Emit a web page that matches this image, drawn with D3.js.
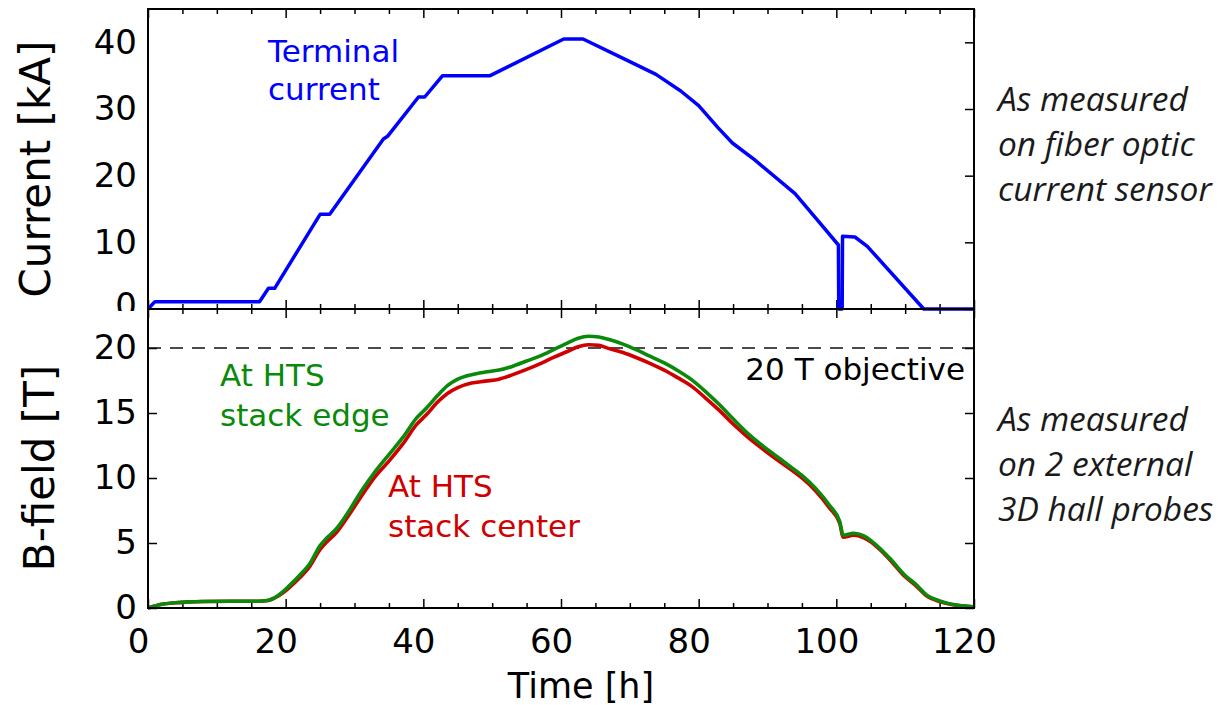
<!DOCTYPE html>
<html><head><meta charset="utf-8">
<script src="https://cdn.jsdelivr.net/npm/d3@7"></script>
<style>body{margin:0;background:#fff}svg{display:block}</style>
</head><body><svg id="c" width="1218" height="705"></svg>
<script>
// ---- data ----
const currentTime = [0,1,16.2,17.5,18.4,25,26.4,34.2,34.8,39.3,40.2,42.8,49.7,60.4,63.2,68.8,73.8,77.4,80,82.8,84.9,88.1,94,97.2,100.3,100.35,100.85,100.9,102.7,104.5,112.7,120];
const currentKA   = [0,1.1,1.1,3.1,3.1,14.2,14.2,25.5,25.9,31.8,31.8,35,35,40.5,40.5,37.7,35.2,32.7,30.5,27.2,24.9,22.4,17.3,13.4,9.6,0,0,10.9,10.8,9.4,0,0];

const edgeTime = [0,1,2,4,6,8,12,16,17.5,19,20.5,22,23.5,25,26,27.2,29,31,33,35,37,39,40.5,42,43.5,45,47,49,51,53,55,57,59,61,62.5,64,65.5,67,69,71,73,75,77,79,81,83,85,87,89,91,93,95,97,99,100.5,101,102.5,104,105,106.5,107.8,110,111.7,113,115,117.5,120];
const edgeT    = [0,0.15,0.28,0.4,0.47,0.5,0.52,0.52,0.6,1.0,1.7,2.5,3.4,4.8,5.4,6.0,7.3,9.0,10.5,11.8,13.1,14.6,15.4,16.3,17.1,17.6,17.95,18.15,18.3,18.6,19.0,19.4,19.9,20.4,20.75,20.9,20.85,20.65,20.3,19.85,19.35,18.85,18.25,17.55,16.65,15.65,14.55,13.5,12.6,11.8,11.0,10.2,9.2,7.9,6.65,5.6,5.75,5.55,5.2,4.5,3.8,2.5,1.75,1.05,0.55,0.23,0.1];

const centerTime = [0,1,2,4,6,8,12,16,17.5,19,20.5,22,23.5,25,26,27.2,29,31,33,35,37,39,40.5,42,43.5,45,47,49,51,53,55,57,59,61,62.5,64,65.5,67,69,71,73,75,77,79,81,83,85,87,89,91,93,95,97,99,100.5,101,102.5,104,105,106.5,107.8,110,111.7,113,115,117.5,120];
const centerT    = [0,0.15,0.28,0.4,0.47,0.5,0.52,0.52,0.58,0.95,1.55,2.3,3.2,4.5,5.1,5.7,7.0,8.6,10.1,11.3,12.6,14.1,14.9,15.8,16.5,16.95,17.3,17.45,17.6,17.95,18.35,18.8,19.3,19.75,20.1,20.25,20.2,19.95,19.65,19.25,18.8,18.3,17.7,17.05,16.15,15.2,14.15,13.2,12.35,11.55,10.8,10.0,9.0,7.7,6.5,5.45,5.6,5.4,5.1,4.4,3.7,2.4,1.65,0.98,0.5,0.2,0.08];

const xTicks = [0,20,40,60,80,100,120];
const xMinorTicks = [5,10,15,25,30,35,45,50,55,65,70,75,85,90,95,105,110,115];
const topTicks = [0,10,20,30,40];
const botTicks = [0,5,10,15,20];
const objectiveT = 20;

const labels = {
  yTop: "Current [kA]", yBot: "B-field [T]", x: "Time [h]",
  terminal: ["Terminal", "current"],
  edge: ["At HTS", "stack edge"],
  center: ["At HTS", "stack center"],
  objective: "20 T objective",
  noteTop: ["As measured", "on fiber optic", "current sensor"],
  noteBot: ["As measured", "on 2 external", "3D hall probes"]
};

// ---- chart ----
const svg = d3.select("#c");
const FONT = "DejaVu Sans";
const x = d3.scaleLinear([0,120],[148,974]);
const yTop = d3.scaleLinear([0,45],[309,9]);
const yBot = d3.scaleLinear([0,23],[608,309]);

const defs = svg.append("defs");
// in the coordinate space of the left-axis group (translated by 148)
defs.append("clipPath").attr("id","topLab").append("rect").attr("x",-148).attr("y",0).attr("width",148).attr("height",311);
defs.append("clipPath").attr("id","topPlot").append("rect").attr("x",140).attr("y",9).attr("width",840).attr("height",304);

function styleAxis(g, fs){
  g.select(".domain").remove();
  g.selectAll(".tick line").attr("stroke","#000").attr("stroke-width",1.5);
  g.selectAll(".tick text").attr("font-family",FONT).attr("font-size",fs).attr("fill","#000");
}

function xAxes(yPos, dir, labelsOn){
  const mk = dir === "bottom" ? d3.axisBottom : d3.axisTop;
  const gM = svg.append("g").attr("transform",`translate(0,${yPos})`)
    .call(mk(x).tickValues(xTicks).tickSizeInner(-9).tickSizeOuter(0).tickPadding(21)
      .tickFormat(labelsOn ? d3.format("d") : ""));
  styleAxis(gM, 34);
  if (labelsOn) gM.selectAll(".tick text").attr("dx",-10);
  const gm = svg.append("g").attr("transform",`translate(0,${yPos})`)
    .call(mk(x).tickValues(xMinorTicks).tickSizeInner(-5).tickSizeOuter(0).tickFormat(""));
  styleAxis(gm, 34);
}
xAxes(9,"top",false);
xAxes(309,"bottom",false);
xAxes(309,"top",false);
xAxes(608,"bottom",true);

function yAxes(scale, ticks, clip){
  const gL = svg.append("g").attr("transform","translate(148,0)")
    .call(d3.axisLeft(scale).tickValues(ticks).tickSizeInner(-9).tickSizeOuter(0).tickPadding(11).tickFormat(d3.format("d")));
  styleAxis(gL, 34);
  if (clip) {
    gL.attr("clip-path","url(#topLab)");
    gL.selectAll(".tick text").filter(d => d === 0).attr("y",-3);
  }
  const gR = svg.append("g").attr("transform","translate(974,0)")
    .call(d3.axisRight(scale).tickValues(ticks).tickSizeInner(-9).tickSizeOuter(0).tickFormat(""));
  styleAxis(gR, 34);
}
yAxes(yTop, topTicks, true);
yAxes(yBot, botTicks, false);

// objective line
svg.append("line").attr("x1",x(0)).attr("x2",x(120)).attr("y1",yBot(objectiveT)).attr("y2",yBot(objectiveT))
  .attr("stroke","#111").attr("stroke-width",1.5).attr("stroke-dasharray","13,9");

// current line
const curData = currentTime.map((t,i)=>[t,currentKA[i]]);
svg.append("path").datum(curData).attr("clip-path","url(#topPlot)")
  .attr("d", d3.line().x(d=>x(d[0])).y(d=>yTop(d[1])))
  .attr("fill","none").attr("stroke","#0000ff").attr("stroke-width",3.5).attr("stroke-linejoin","round");

// B-field lines
const cData = centerTime.map((t,i)=>[t,centerT[i]]);
const eData = edgeTime.map((t,i)=>[t,edgeT[i]]);
const bLine = d3.line().x(d=>x(d[0])).y(d=>yBot(d[1])).curve(d3.curveMonotoneX);
svg.append("path").datum(cData).attr("d",bLine).attr("fill","none").attr("stroke","#d00000").attr("stroke-width",3.6).attr("stroke-linejoin","round");
svg.append("path").datum(eData).attr("d",bLine).attr("fill","none").attr("stroke","#0a8a0a").attr("stroke-width",3.6).attr("stroke-linejoin","round");

// frame
svg.append("rect").attr("x",148).attr("y",9).attr("width",826).attr("height",599)
  .attr("fill","none").attr("stroke","#000").attr("stroke-width",2);
svg.append("line").attr("x1",148).attr("x2",974).attr("y1",309).attr("y2",309).attr("stroke","#000").attr("stroke-width",2);

// annotations
function multi(lines, xp, y0, lh, fill, fs, opts={}){
  const t = svg.append("text").attr("x",xp).attr("y",y0).attr("fill",fill)
    .attr("font-family",opts.family||FONT).attr("font-size",fs);
  if (opts.italic) t.attr("font-style","italic");
  lines.forEach((s,i)=>t.append("tspan").attr("x",xp).attr("y",y0+i*lh).text(s));
}
multi(labels.terminal, 268, 62, 38, "#0000ff", 31);
multi(labels.edge, 220, 386, 40, "#0a8a0a", 31);
multi(labels.center, 388, 497, 40, "#d00000", 31);
svg.append("text").attr("x",965).attr("y",380).attr("text-anchor","end").attr("font-family",FONT).attr("font-size",31).attr("fill","#000").text(labels.objective);

// axis titles
svg.append("text").attr("transform","translate(50,169) rotate(-90)").attr("text-anchor","middle")
  .attr("font-family",FONT).attr("font-size",42).attr("fill","#000").text(labels.yTop);
svg.append("text").attr("transform","translate(54,468) rotate(-90)").attr("text-anchor","middle")
  .attr("font-family",FONT).attr("font-size",42).attr("fill","#000").text(labels.yBot);
svg.append("text").attr("x",581).attr("y",698).attr("text-anchor","middle")
  .attr("font-family",FONT).attr("font-size",35).attr("fill","#000").text(labels.x);

// side notes
multi(labels.noteTop, 998, 111, 45, "#1a1a1a", 33.5, {italic:true, family:"Open Sans"});
multi(labels.noteBot, 998, 431, 45, "#1a1a1a", 33.5, {italic:true, family:"Open Sans"});
</script></body></html>
